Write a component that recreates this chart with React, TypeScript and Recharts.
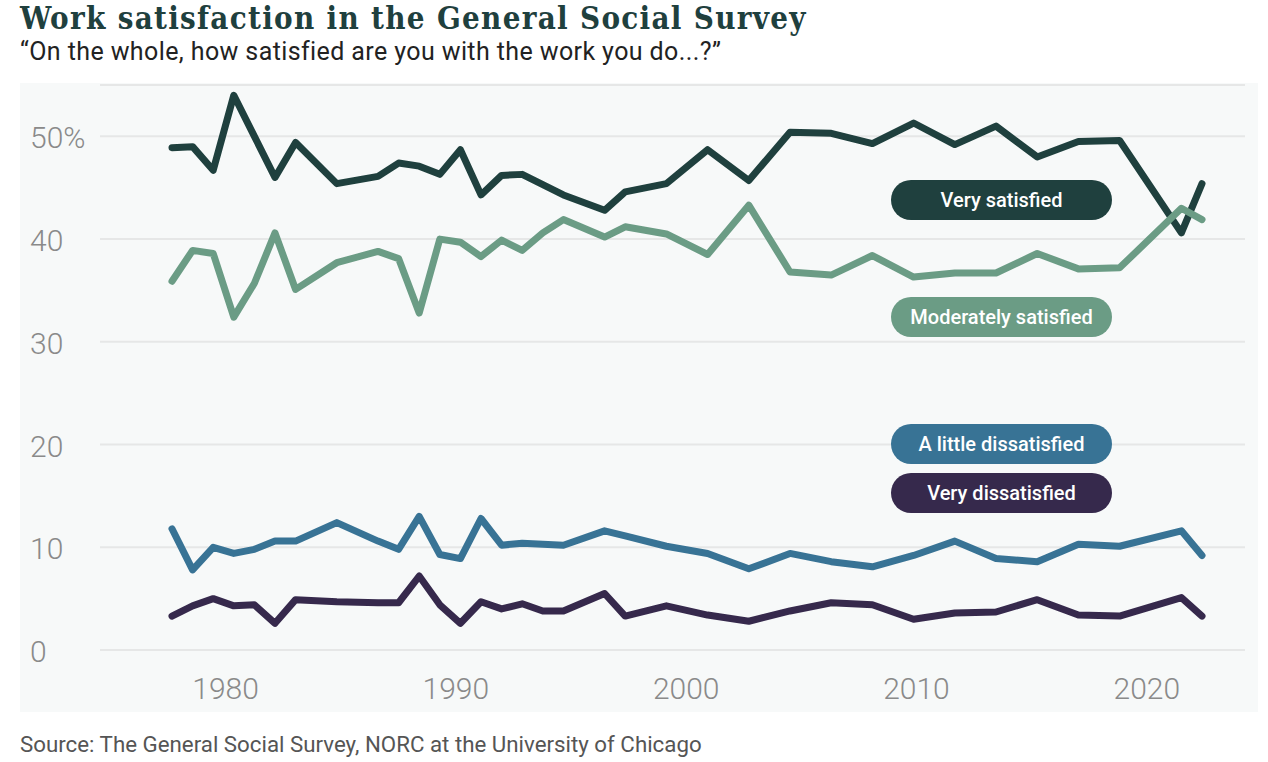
import { LineChart, Line, XAxis, YAxis, CartesianGrid } from "recharts";

// GSS survey years
const years = [
  1972, 1973, 1974, 1975, 1976, 1977, 1978, 1980, 1982, 1983, 1984, 1985,
  1986, 1987, 1988, 1989, 1990, 1991, 1993, 1994, 1996, 1998, 2000, 2002,
  2004, 2006, 2008, 2010, 2012, 2014, 2016, 2018, 2021, 2022,
];

const verySatisfied = [
  48.9, 49.0, 46.7, 54.0, 50.0, 46.0, 49.4, 45.4, 46.1, 47.4, 47.1, 46.3,
  48.7, 44.3, 46.2, 46.3, 45.3, 44.3, 42.8, 44.6, 45.4, 48.7, 45.7, 50.4,
  50.3, 49.3, 51.3, 49.2, 51.0, 48.0, 49.5, 49.6, 40.6, 45.4,
];

const moderatelySatisfied = [
  35.9, 38.9, 38.6, 32.4, 35.7, 40.6, 35.1, 37.7, 38.8, 38.1, 32.8, 40.0,
  39.7, 38.3, 39.9, 38.9, 40.6, 41.9, 40.2, 41.2, 40.5, 38.5, 43.3, 36.8,
  36.5, 38.4, 36.3, 36.7, 36.7, 38.6, 37.1, 37.2, 43.0, 41.9,
];

const littleDissatisfied = [
  11.8, 7.8, 10.0, 9.4, 9.8, 10.6, 10.6, 12.4, 10.6, 9.8, 13.0, 9.3,
  8.9, 12.8, 10.2, 10.4, 10.3, 10.2, 11.6, 11.1, 10.1, 9.4, 7.9, 9.4,
  8.6, 8.1, 9.2, 10.6, 8.9, 8.6, 10.3, 10.1, 11.6, 9.2,
];

const veryDissatisfied = [
  3.3, 4.3, 5.0, 4.3, 4.4, 2.6, 4.9, 4.7, 4.6, 4.6, 7.2, 4.4,
  2.6, 4.7, 4.0, 4.5, 3.8, 3.8, 5.5, 3.3, 4.3, 3.4, 2.8, 3.8,
  4.6, 4.4, 3.0, 3.6, 3.7, 4.9, 3.4, 3.3, 5.1, 3.3,
];

const yTicks = [0, 10, 20, 30, 40, 50];
const xTickLabels = [1980, 1990, 2000, 2010, 2020];

// in the original the decade labels sit on a scale that is offset
// from the survey points, so map label years onto the data axis
const LABEL_ORIGIN = 1974.6;
const LABEL_STEP = 1.118;
const labelToData = (y: number) => LABEL_ORIGIN + (y - 1980) * LABEL_STEP;
const dataToLabel = (v: number) => Math.round(1980 + (v - LABEL_ORIGIN) / LABEL_STEP);

const data = years.map((year, i) => ({
  year,
  very: verySatisfied[i],
  moderate: moderatelySatisfied[i],
  little: littleDissatisfied[i],
  veryDis: veryDissatisfied[i],
}));

const SERIES = [
  { key: "very", name: "Very satisfied", color: "#1f403e", pillTop: 180 },
  { key: "moderate", name: "Moderately satisfied", color: "#6b9c85", pillTop: 297 },
  { key: "little", name: "A little dissatisfied", color: "#387395", pillTop: 424 },
  { key: "veryDis", name: "Very dissatisfied", color: "#36294c", pillTop: 473 },
];

const FONT = "Roboto, 'Noto Sans', sans-serif";

const YTick = ({ y, payload }: any) => (
  <text
    x={10}
    y={y}
    dy="0.4em"
    textAnchor="start"
    fill="#8a8a8a"
    fontSize={30}
    fontWeight={300}
    fontFamily={FONT}
  >
    {payload.value === 50 ? "50%" : payload.value}
  </text>
);

export default function App() {
  return (
    <div
      style={{
        position: "absolute",
        left: 0,
        top: 0,
        width: 1268,
        height: 762,
        background: "#ffffff",
        overflow: "hidden",
      }}
    >
      <div
        style={{
          position: "absolute",
          left: 20,
          top: 0,
          fontFamily: "'DejaVu Serif Condensed', 'DejaVu Serif', serif",
          fontStretch: "condensed",
          fontWeight: 700,
          fontSize: 31,
          letterSpacing: 1.3,
          lineHeight: "37px",
          color: "#1f403e",
          whiteSpace: "nowrap",
        }}
      >
        Work satisfaction in the General Social Survey
      </div>
      <div
        style={{
          position: "absolute",
          left: 20,
          top: 37,
          fontFamily: FONT,
          fontSize: 25,
          letterSpacing: 0.4,
          lineHeight: "30px",
          color: "#222",
          whiteSpace: "nowrap",
        }}
      >
        “On the whole, how satisfied are you with the work you do...?”
      </div>

      <div
        style={{
          position: "absolute",
          left: 20,
          top: 83,
          width: 1238,
          height: 629,
          background: "#f7f9f9",
        }}
      >
        <LineChart
          width={1238}
          height={629}
          data={data}
          margin={{ top: 2, right: 13, left: 0, bottom: 0 }}
        >
          <CartesianGrid vertical={false} stroke="#e6e7e7" strokeWidth={2} />
          <XAxis
            dataKey="year"
            type="number"
            domain={[1972, 2022]}
            padding={{ left: 72, right: 43 }}
            ticks={xTickLabels.map(labelToData)}
            tickFormatter={(v: number) => String(dataToLabel(v))}
            interval={0}
            height={62}
            axisLine={false}
            tickLine={false}
            tickSize={0}
            tickMargin={28}
            tick={{ fill: "#8a8a8a", fontSize: 30, fontWeight: 300, fontFamily: FONT }}
          />
          <YAxis
            domain={[0, 55]}
            ticks={yTicks}
            width={80}
            axisLine={false}
            tickLine={false}
            tick={<YTick />}
          />
          {SERIES.map((s) => (
            <Line
              key={s.key}
              dataKey={s.key}
              name={s.name}
              type="linear"
              stroke={s.color}
              strokeWidth={7}
              strokeLinejoin="round"
              strokeLinecap="round"
              dot={false}
              isAnimationActive={false}
            />
          ))}
        </LineChart>
      </div>

      {SERIES.map((s) => (
        <div
          key={s.key}
          style={{
            position: "absolute",
            left: 891,
            top: s.pillTop,
            width: 221,
            height: 40,
            borderRadius: 20,
            background: s.color,
            color: "#ffffff",
            fontFamily: FONT,
            fontWeight: 500,
            fontSize: 20,
            display: "flex",
            alignItems: "center",
            justifyContent: "center",
          }}
        >
          {s.name}
        </div>
      ))}

      <div
        style={{
          position: "absolute",
          left: 20,
          top: 730,
          fontFamily: FONT,
          fontSize: 22.3,
          lineHeight: "28px",
          color: "#555",
          whiteSpace: "nowrap",
        }}
      >
        Source: The General Social Survey, NORC at the University of Chicago
      </div>
    </div>
  );
}
